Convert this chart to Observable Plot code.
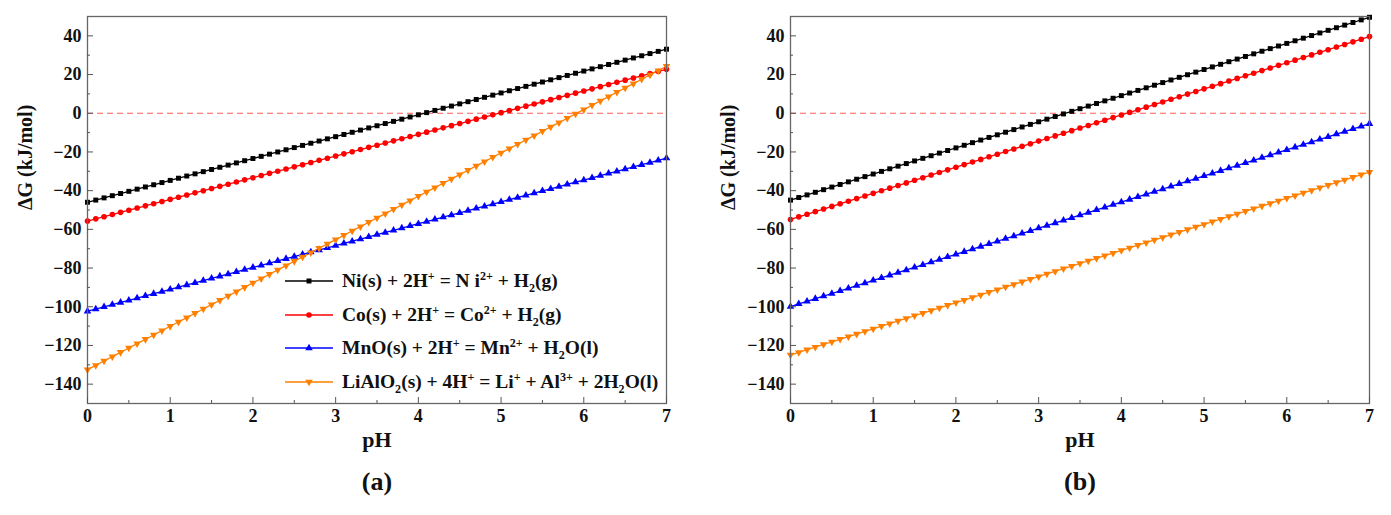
<!DOCTYPE html>
<html><head><meta charset="utf-8">
<script src="https://cdn.jsdelivr.net/npm/d3@7"></script>
<script src="https://cdn.jsdelivr.net/npm/@observablehq/plot@0.6"></script>
<style>
body{margin:0;background:#fff;}
#wrap{display:flex;width:1391px;height:515px;overflow:hidden;}
.panel{position:relative;}
.legend{position:absolute;left:285px;top:264px;font-family:"Liberation Serif",serif;font-weight:bold;font-size:19.5px;color:#111;}
.legend .row{position:absolute;left:0;height:34px;display:flex;align-items:center;white-space:nowrap;}
.legend svg{display:block;flex:none;}
sup,sub{font-size:0.62em;line-height:0;}
</style></head><body><div id="wrap"></div>
<script>
// pH values (x)
const pH = [0.0,0.1,0.2,0.3,0.4,0.5,0.6,0.7,0.8,0.9,1.0,1.1,1.2,1.3,1.4,1.5,1.6,1.7,1.8,1.9,2.0,2.1,2.2,2.3,2.4,2.5,2.6,2.7,2.8,2.9,3.0,3.1,3.2,3.3,3.4,3.5,3.6,3.7,3.8,3.9,4.0,4.1,4.2,4.3,4.4,4.5,4.6,4.7,4.8,4.9,5.0,5.1,5.2,5.3,5.4,5.5,5.6,5.7,5.8,5.9,6.0,6.1,6.2,6.3,6.4,6.5,6.6,6.7,6.8,6.9,7.0];

const seriesNames = ["Ni","Co","MnO","LiAlO2"];
const seriesColors = ["#000000","#ff0000","#0000ff","#ff8000"];
const legendLabels = [
  "Ni(s) + 2H<sup>+</sup> = N i<sup>2+</sup> + H<sub>2</sub>(g)",
  "Co(s) + 2H<sup>+</sup> = Co<sup>2+</sup> + H<sub>2</sub>(g)",
  "MnO(s) + 2H<sup>+</sup> = Mn<sup>2+</sup> + H<sub>2</sub>O(l)",
  "LiAlO<sub>2</sub>(s) + 4H<sup>+</sup> = Li<sup>+</sup> + Al<sup>3+</sup> + 2H<sub>2</sub>O(l)"
];

// Panel (a) ΔG values (kJ/mol)
const aNi = [-46.00,-44.87,-43.74,-42.61,-41.48,-40.35,-39.22,-38.09,-36.96,-35.83,-34.70,-33.57,-32.44,-31.31,-30.18,-29.05,-27.92,-26.79,-25.66,-24.53,-23.40,-22.27,-21.14,-20.01,-18.88,-17.75,-16.62,-15.49,-14.36,-13.23,-12.10,-10.97,-9.84,-8.71,-7.58,-6.45,-5.32,-4.19,-3.06,-1.93,-0.80,0.33,1.46,2.59,3.72,4.85,5.98,7.11,8.24,9.37,10.50,11.63,12.76,13.89,15.02,16.15,17.28,18.41,19.54,20.67,21.80,22.93,24.06,25.19,26.32,27.45,28.58,29.71,30.84,31.97,33.10];
const aCo = [-55.70,-54.58,-53.46,-52.34,-51.22,-50.10,-48.98,-47.86,-46.74,-45.62,-44.50,-43.38,-42.26,-41.14,-40.02,-38.90,-37.78,-36.66,-35.54,-34.42,-33.30,-32.18,-31.06,-29.94,-28.82,-27.70,-26.58,-25.46,-24.34,-23.22,-22.10,-20.98,-19.86,-18.74,-17.62,-16.50,-15.38,-14.26,-13.14,-12.02,-10.90,-9.78,-8.66,-7.54,-6.42,-5.30,-4.18,-3.06,-1.94,-0.82,0.30,1.42,2.54,3.66,4.78,5.90,7.02,8.14,9.26,10.38,11.50,12.62,13.74,14.86,15.98,17.10,18.22,19.34,20.46,21.58,22.70];
const aMnO = [-102.30,-101.17,-100.04,-98.91,-97.78,-96.65,-95.52,-94.39,-93.26,-92.13,-91.00,-89.87,-88.74,-87.61,-86.48,-85.35,-84.22,-83.09,-81.96,-80.83,-79.70,-78.57,-77.44,-76.31,-75.18,-74.05,-72.92,-71.79,-70.66,-69.53,-68.40,-67.27,-66.14,-65.01,-63.88,-62.75,-61.62,-60.49,-59.36,-58.23,-57.10,-55.97,-54.84,-53.71,-52.58,-51.45,-50.32,-49.19,-48.06,-46.93,-45.80,-44.67,-43.54,-42.41,-41.28,-40.15,-39.02,-37.89,-36.76,-35.63,-34.50,-33.37,-32.24,-31.11,-29.98,-28.85,-27.72,-26.59,-25.46,-24.33,-23.20];
const aLiAlO2 = [-132.50,-130.26,-128.02,-125.78,-123.54,-121.30,-119.06,-116.82,-114.58,-112.34,-110.10,-107.86,-105.62,-103.38,-101.14,-98.90,-96.66,-94.42,-92.18,-89.94,-87.70,-85.46,-83.22,-80.98,-78.74,-76.50,-74.26,-72.02,-69.78,-67.54,-65.30,-63.06,-60.82,-58.58,-56.34,-54.10,-51.86,-49.62,-47.38,-45.14,-42.90,-40.66,-38.42,-36.18,-33.94,-31.70,-29.46,-27.22,-24.98,-22.74,-20.50,-18.26,-16.02,-13.78,-11.54,-9.30,-7.06,-4.82,-2.58,-0.34,1.90,4.14,6.38,8.62,10.86,13.10,15.34,17.58,19.82,22.06,24.30];

// Panel (b) ΔG values (kJ/mol)
const bNi = [-44.90,-43.55,-42.20,-40.85,-39.50,-38.15,-36.80,-35.45,-34.10,-32.75,-31.40,-30.05,-28.70,-27.35,-26.00,-24.65,-23.30,-21.95,-20.60,-19.25,-17.90,-16.55,-15.20,-13.85,-12.50,-11.15,-9.80,-8.45,-7.10,-5.75,-4.40,-3.05,-1.70,-0.35,1.00,2.35,3.70,5.05,6.40,7.75,9.10,10.45,11.80,13.15,14.50,15.85,17.20,18.55,19.90,21.25,22.60,23.95,25.30,26.65,28.00,29.35,30.70,32.05,33.40,34.75,36.10,37.45,38.80,40.15,41.50,42.85,44.20,45.55,46.90,48.25,49.60];
const bCo = [-54.90,-53.55,-52.20,-50.85,-49.50,-48.15,-46.80,-45.45,-44.10,-42.75,-41.40,-40.05,-38.70,-37.35,-36.00,-34.65,-33.30,-31.95,-30.60,-29.25,-27.90,-26.55,-25.20,-23.85,-22.50,-21.15,-19.80,-18.45,-17.10,-15.75,-14.40,-13.05,-11.70,-10.35,-9.00,-7.65,-6.30,-4.95,-3.60,-2.25,-0.90,0.45,1.80,3.15,4.50,5.85,7.20,8.55,9.90,11.25,12.60,13.95,15.30,16.65,18.00,19.35,20.70,22.05,23.40,24.75,26.10,27.45,28.80,30.15,31.50,32.85,34.20,35.55,36.90,38.25,39.60];
const bMnO = [-99.90,-98.55,-97.20,-95.85,-94.50,-93.15,-91.80,-90.45,-89.10,-87.75,-86.40,-85.05,-83.70,-82.35,-81.00,-79.65,-78.30,-76.95,-75.60,-74.25,-72.90,-71.55,-70.20,-68.85,-67.50,-66.15,-64.80,-63.45,-62.10,-60.75,-59.40,-58.05,-56.70,-55.35,-54.00,-52.65,-51.30,-49.95,-48.60,-47.25,-45.90,-44.55,-43.20,-41.85,-40.50,-39.15,-37.80,-36.45,-35.10,-33.75,-32.40,-31.05,-29.70,-28.35,-27.00,-25.65,-24.30,-22.95,-21.60,-20.25,-18.90,-17.55,-16.20,-14.85,-13.50,-12.15,-10.80,-9.45,-8.10,-6.75,-5.40];
const bLiAlO2 = [-124.90,-123.55,-122.20,-120.85,-119.50,-118.15,-116.80,-115.45,-114.10,-112.75,-111.40,-110.05,-108.70,-107.35,-106.00,-104.65,-103.30,-101.95,-100.60,-99.25,-97.90,-96.55,-95.20,-93.85,-92.50,-91.15,-89.80,-88.45,-87.10,-85.75,-84.40,-83.05,-81.70,-80.35,-79.00,-77.65,-76.30,-74.95,-73.60,-72.25,-70.90,-69.55,-68.20,-66.85,-65.50,-64.15,-62.80,-61.45,-60.10,-58.75,-57.40,-56.05,-54.70,-53.35,-52.00,-50.65,-49.30,-47.95,-46.60,-45.25,-43.90,-42.55,-41.20,-39.85,-38.50,-37.15,-35.80,-34.45,-33.10,-31.75,-30.40];

// Tick values
const yTicks = [-140,-120,-100,-80,-60,-40,-20,0,20,40];
const yMinor = [-130,-110,-90,-70,-50,-30,-10,10,30];
const xTicks = [0,1,2,3,4,5,6,7];
const xMinor = [0.5,1.5,2.5,3.5,4.5,5.5,6.5];

const triangleDown = {
  draw(ctx, size) {
    const s3 = Math.sqrt(3);
    const y = Math.sqrt(size / (s3 * 3));
    ctx.moveTo(0, y * 2);
    ctx.lineTo(-s3 * y, -y);
    ctx.lineTo(s3 * y, -y);
    ctx.closePath();
  }
};
const seriesSymbols = [d3.symbolSquare, d3.symbolCircle, d3.symbolTriangle, triangleDown];

const FONT = "'Liberation Serif', serif";

function makePanel(values, opt) {
  const rows = [];
  seriesNames.forEach((s, j) => pH.forEach((x, i) => rows.push({s, pH: x, g: values[j][i]})));
  return Plot.plot({
    width: opt.width, height: 515,
    marginLeft: opt.ml, marginRight: opt.mr, marginTop: 16, marginBottom: 112,
    x: {domain: [0, 7]},
    y: {domain: [-150, 50]},
    color: {domain: seriesNames, range: seriesColors},
    symbol: {domain: seriesNames, range: seriesSymbols},
    style: {fontFamily: FONT, color: "#111", background: "white", overflow: "visible"},
    marks: [
      Plot.ruleY([0], {stroke: "#ff4040", strokeOpacity: 0.85, strokeWidth: 1.1, strokeDasharray: "6,4"}),
      Plot.line(rows, {x: "pH", y: "g", z: "s", stroke: "s", strokeWidth: 1.3}),
      Plot.dot(rows, {x: "pH", y: "g", symbol: "s", fill: "s", stroke: null, r: 2.8}),
      Plot.frame({stroke: "#666", strokeWidth: 1.3}),
      Plot.axisY(yTicks, {tickSize: -6, tickFormat: () => "", label: null, stroke: "#555"}),
      Plot.axisY(yMinor, {tickSize: -3, tickFormat: () => "", label: null, stroke: "#555"}),
      Plot.axisY(yTicks, {tickSize: 0, tickPadding: 6, label: null, fontSize: 18, fontWeight: "bold", tickFormat: d => d < 0 ? "\u2212" + (-d) : String(d)}),
      Plot.axisX(xTicks, {tickSize: -6, tickFormat: () => "", label: null, stroke: "#555"}),
      Plot.axisX(xMinor, {tickSize: -3, tickFormat: () => "", label: null, stroke: "#555"}),
      Plot.axisX(xTicks, {tickSize: 0, tickPadding: 6, label: null, fontSize: 18, fontWeight: "bold"}),
      Plot.text(["\u0394G (kJ/mol)"], {frameAnchor: "left", rotate: -90, dx: -62, fontSize: 20, fontWeight: "bold"}),
      Plot.text(["pH"], {frameAnchor: "bottom", dy: 43, fontSize: 22, fontWeight: "bold"}),
      Plot.text([opt.tag], {frameAnchor: "bottom", dy: 86, fontSize: 26, fontWeight: "bold"})
    ]
  });
}

const wrap = document.getElementById("wrap");

const divA = document.createElement("div");
divA.className = "panel"; divA.style.width = "695px";
divA.appendChild(makePanel([aNi, aCo, aMnO, aLiAlO2], {width: 695, ml: 87, mr: 29, tag: "(a)"}));
wrap.appendChild(divA);

const divB = document.createElement("div");
divB.className = "panel"; divB.style.width = "696px";
divB.appendChild(makePanel([bNi, bCo, bMnO, bLiAlO2], {width: 696, ml: 95, mr: 22, tag: "(b)"}));
wrap.appendChild(divB);

// Legend (panel a)
const legend = document.createElement("div");
legend.className = "legend";
seriesNames.forEach((s, j) => {
  const row = document.createElement("div");
  row.className = "row";
  row.style.top = (j * 33.6) + "px";
  const sym = d3.symbol(seriesSymbols[j], Math.PI * 2.8 * 2.8)();
  row.innerHTML =
    `<svg width="57" height="20"><line x1="0" x2="48" y1="10" y2="10" stroke="${seriesColors[j]}" stroke-width="1.3"/>` +
    `<path transform="translate(24,10)" d="${sym}" fill="${seriesColors[j]}"/></svg>` +
    `<span>${legendLabels[j]}</span>`;
  legend.appendChild(row);
});
divA.appendChild(legend);
</script>
</body></html>
